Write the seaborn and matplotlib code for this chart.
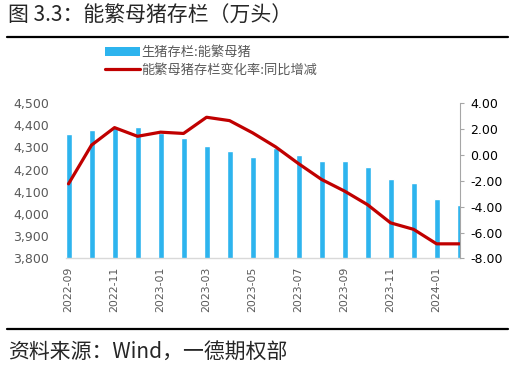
import matplotlib
matplotlib.use("Agg")
import matplotlib.pyplot as plt
from matplotlib.lines import Line2D
from matplotlib.patches import Patch
from matplotlib.ticker import FuncFormatter, MultipleLocator
import seaborn as sns
import pandas as pd
import numpy as np

months = ["2022-09", "2022-10", "2022-11", "2022-12", "2023-01", "2023-02",
          "2023-03", "2023-04", "2023-05", "2023-06", "2023-07", "2023-08",
          "2023-09", "2023-10", "2023-11", "2023-12", "2024-01", "2024-02"]
sow_stock = [4362, 4379, 4390, 4390, 4367, 4343, 4305, 4284, 4256, 4296,
             4267, 4241, 4240, 4210, 4158, 4142, 4067, 4042]
yoy_change = [-2.24, 0.75, 2.1, 1.43, 1.75, 1.65, 2.9, 2.64, 1.7, 0.62,
              -0.68, -1.9, -2.8, -3.85, -5.25, -5.75, -6.87, -6.87]

bar_label = "生猪存栏:能繁母猪"
line_label = "能繁母猪存栏变化率:同比增减"
title = "图 3.3：能繁母猪存栏（万头）"
source = "资料来源：Wind，一德期权部"

df = pd.DataFrame({"month": months, "stock": sow_stock, "yoy": yoy_change})
df["pos"] = np.arange(len(df))

sns.set_style("white")
plt.rcParams["font.family"] = ["DejaVu Sans", "Noto Sans CJK SC"]
cjk = ["Noto Sans CJK SC", "DejaVu Sans"]

blue = "#2DB4EE"
red = "#C00000"
grey = "#595959"

fig = plt.figure(figsize=(5.27, 3.70), dpi=100)
ax = fig.add_axes([0.1252, 0.3014, 0.7486, 0.4202])

sns.barplot(data=df, x="month", y="stock", color=blue, width=0.26,
            saturation=1, ax=ax)
ax.set_ylim(3800, 4500)
ax.yaxis.set_major_locator(MultipleLocator(100))
ax.yaxis.set_major_formatter(FuncFormatter(lambda v, p: f"{v:,.0f}"))
ax.set_xlim(-0.11, 17.04)
ax.set_xlabel("")
ax.set_ylabel("")
ax.set_xticks(df["pos"][::2])
ax.set_xticklabels(df["month"][::2], rotation=90)
ax.tick_params(axis="x", length=0, pad=6, labelsize=7.8, labelcolor=grey)
ax.tick_params(axis="y", length=0, pad=12, labelsize=9, labelcolor=grey)
for s in ["top", "left", "right"]:
    ax.spines[s].set_visible(False)
ax.spines["bottom"].set_color("#D9D9D9")
ax.spines["bottom"].set_linewidth(1)

ax2 = ax.twinx()
sns.lineplot(data=df, x="pos", y="yoy", color=red, linewidth=2.3, ax=ax2)
ax2.set_ylim(-8, 4)
ax2.yaxis.set_major_locator(MultipleLocator(2))
ax2.yaxis.set_major_formatter(FuncFormatter(lambda v, p: f"{v:.2f}"))
ax2.set_ylabel("")
ax2.set_xlabel("")
ax2.set_xlim(-0.11, 17.04)
ax2.tick_params(axis="y", direction="out", length=3, width=0.8, color="#A6A6A6",
                pad=4, labelsize=9, labelcolor="black")
for s in ["top", "left", "bottom"]:
    ax2.spines[s].set_visible(False)
ax2.spines["right"].set_color("#A6A6A6")
ax2.spines["right"].set_linewidth(0.8)

handles = [Patch(facecolor=blue, edgecolor="none"),
           Line2D([0], [0], color=red, linewidth=2.3)]
leg = fig.legend(handles, [bar_label, line_label], loc="upper left",
                 bbox_to_anchor=(0.2, 0.875), frameon=False,
                 prop={"family": cjk, "size": 9.5}, handlelength=2.6,
                 handleheight=0.7, handletextpad=0.15, labelspacing=0.35,
                 borderpad=0, borderaxespad=0)
for t in leg.get_texts():
    t.set_color(grey)

fig.text(0.015, 0.958, title, family=cjk, fontsize=15, va="center", ha="left")
fig.add_artist(Line2D([0.013, 0.964], [0.901, 0.901], color="black",
                      linewidth=1.6, transform=fig.transFigure))
fig.add_artist(Line2D([0.013, 0.964], [0.111, 0.111], color="black",
                      linewidth=1.6, transform=fig.transFigure))
fig.text(0.015, 0.048, source, family=cjk, fontsize=15, va="center", ha="left")

fig.savefig("out.png", dpi=100)
